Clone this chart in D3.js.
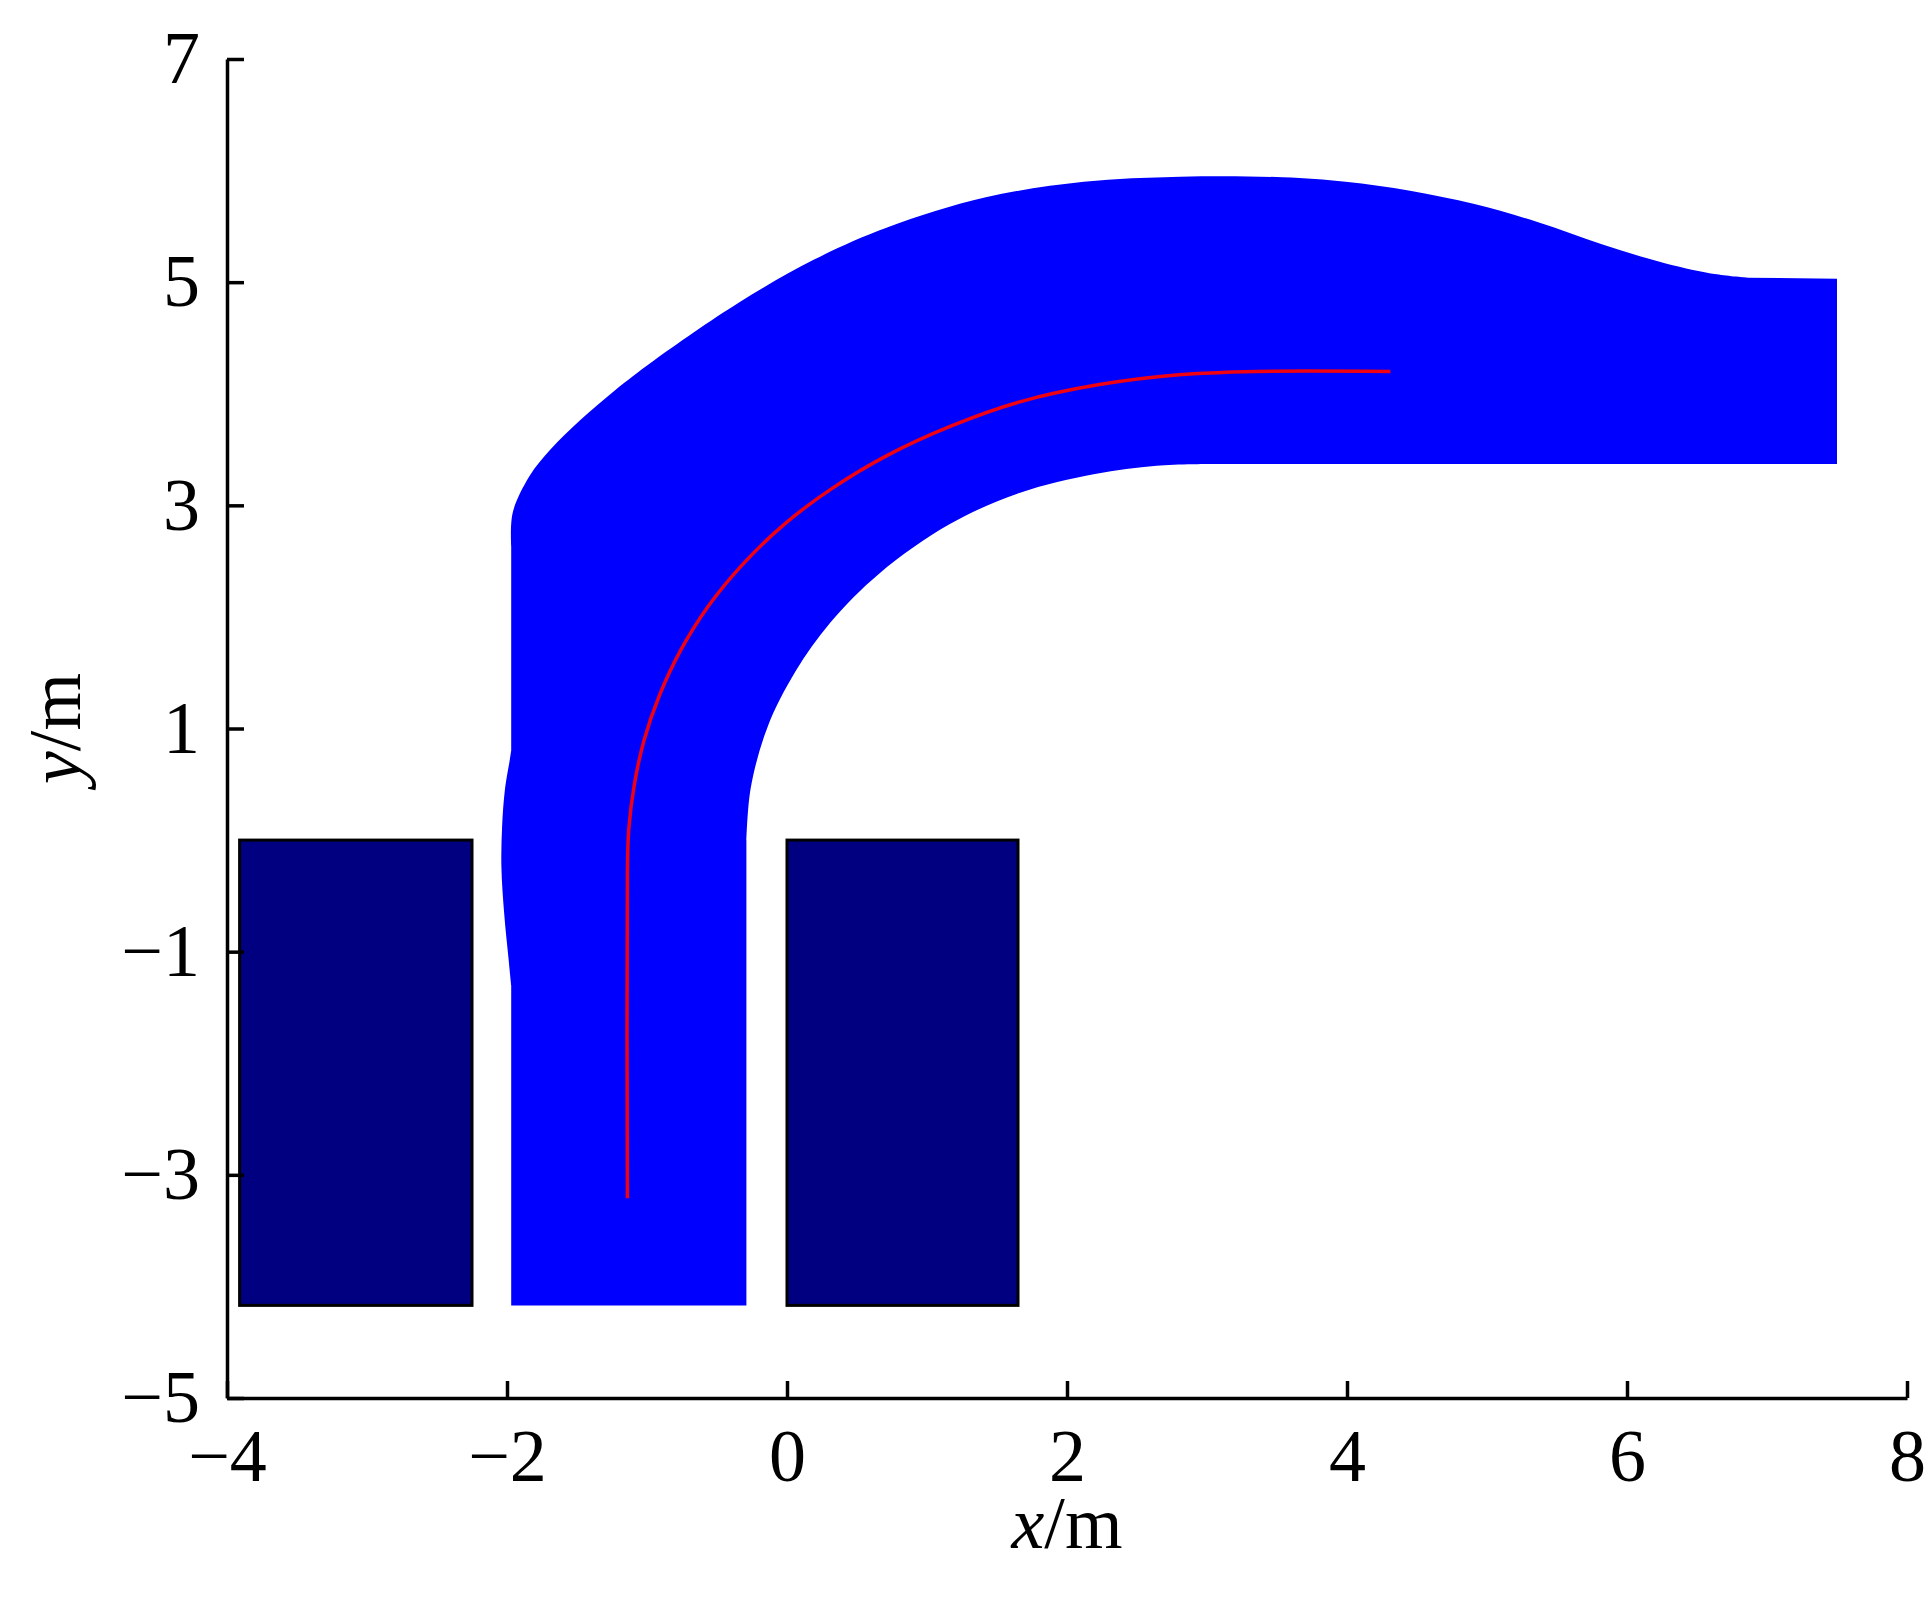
<!DOCTYPE html>
<html>
<head>
<meta charset="utf-8">
<script src="https://cdn.jsdelivr.net/npm/d3@7"></script>
<style>
  body { margin: 0; background: #fff; }
  svg text { font-family: 'Liberation Serif', 'Times New Roman', serif; }
</style>
</head>
<body>
<div id="chart"></div>
<script>
// axis ticks
const xTicks = [-4, -2, 0, 2, 4, 6, 8];
const yTicks = [-5, -3, -1, 1, 3, 5, 7];

// obstacles [x0, x1, y0, y1] in metres
const obstacles = [
  [-3.91, -2.25, -4.17, 0],
  [0, 1.65, -4.17, 0]
];

// swept area outline, walked counter-clockwise from bottom-left
const leftBottom = [[-1.97, -4.17], [-1.97, -1.3]];
const leftBulge = [[-1.97, -1.3], [-1.99, -1.05], [-2.02, -0.66], [-2.04, -0.24], [-2.035, 0.12],
  [-2.015, 0.45], [-1.98, 0.72], [-1.97, 0.8]];
const leftUpper = [[-1.97, 0.8], [-1.97, 2.63]];
const topEdge = [[-1.97, 2.63], [-1.96, 2.93], [-1.84, 3.26], [-1.69, 3.5], [-1.48, 3.76], [-1.23, 4.03],
  [-0.96, 4.29], [-0.34, 4.82], [0.19, 5.2], [0.715, 5.49], [1.42, 5.76], [2.12, 5.9], [2.81, 5.945],
  [3.54, 5.94], [3.99, 5.9], [4.45, 5.82], [4.91, 5.7], [5.36, 5.54], [5.82, 5.34], [6.27, 5.17],
  [6.64, 5.07], [6.86, 5.04]];
const rightEnd = [[6.86, 5.04], [7.5, 5.03], [7.5, 3.37], [3.05, 3.37]];
const innerEdge = [[3.05, 3.37], [2.64, 3.355], [2.2, 3.28], [1.66, 3.11], [1.16, 2.83], [0.66, 2.39],
  [0.31, 1.95], [0.06, 1.51], [-0.14, 1.01], [-0.26, 0.46], [-0.29, 0]];
const rightBottom = [[-0.29, 0], [-0.29, -4.17]];

// reference trajectory
const path = [[-1.14, -3.21], [-1.14, -0.3], [-1.13, 0.1], [-1.09, 0.5], [-1.02, 0.9], [-0.91, 1.3],
  [-0.76, 1.7], [-0.56, 2.1], [-0.31, 2.48], [-0.02, 2.83], [0.32, 3.15], [0.72, 3.45], [1.17, 3.71],
  [1.67, 3.93], [2.22, 4.08], [2.8, 4.17], [3.35, 4.2], [4.31, 4.2]];

const W = 1932, H = 1600;
const x = d3.scaleLinear().domain([-4, 8]).range([227, 1907]);
const y = d3.scaleLinear().domain([-5, 7]).range([1398, 59]);

const svg = d3.select('#chart').append('svg').attr('width', W).attr('height', H);

const straight = d3.line().x(d => x(d[0])).y(d => y(d[1]));
const smooth = d3.line().x(d => x(d[0])).y(d => y(d[1])).curve(d3.curveCatmullRom.alpha(0.5));

const pieces = [
  [leftBottom, straight], [leftBulge, smooth], [leftUpper, straight], [topEdge, smooth],
  [rightEnd, straight], [innerEdge, smooth], [rightBottom, straight]
];
const outline = pieces.map(([pts, gen], i) => (i ? gen(pts).replace(/^M/, 'L') : gen(pts))).join('') + 'Z';

svg.append('path')
  .attr('d', outline)
  .attr('fill', '#0000ff');

svg.selectAll('.obstacle')
  .data(obstacles)
  .enter()
  .append('rect')
  .attr('class', 'obstacle')
  .attr('x', d => x(d[0]))
  .attr('y', d => y(d[3]))
  .attr('width', d => x(d[1]) - x(d[0]))
  .attr('height', d => y(d[2]) - y(d[3]))
  .attr('fill', '#000080')
  .attr('stroke', '#000')
  .attr('stroke-width', 3);

svg.append('path')
  .datum(path)
  .attr('d', smooth)
  .attr('fill', 'none')
  .attr('stroke', '#f00010')
  .attr('stroke-width', 3.5);

const xAxis = svg.append('g')
  .attr('transform', `translate(0,${y(-5)})`)
  .call(d3.axisBottom(x).tickValues(xTicks).tickSizeInner(-17).tickSizeOuter(0).tickPadding(30));

const yAxis = svg.append('g')
  .attr('transform', `translate(${x(-4)},0)`)
  .call(d3.axisLeft(y).tickValues(yTicks).tickSizeInner(-17).tickSizeOuter(0).tickPadding(27));

[xAxis, yAxis].forEach(g => {
  g.select('.domain').attr('stroke', '#000').attr('stroke-width', 3.5);
  g.selectAll('.tick line').attr('stroke', '#000').attr('stroke-width', 3.5);
  g.selectAll('.tick text')
    .attr('fill', '#000')
    .style('font-family', "'Liberation Serif', 'Times New Roman', serif")
    .style('font-size', '74px');
});

const xLabel = svg.append('text')
  .attr('x', x(2))
  .attr('y', 1548)
  .attr('text-anchor', 'middle')
  .style('font-size', '74px');
xLabel.append('tspan').style('font-style', 'italic').text('x');
xLabel.append('tspan').text('/m');

const yLabel = svg.append('text')
  .attr('transform', `translate(80,${y(1)}) rotate(-90)`)
  .attr('text-anchor', 'middle')
  .style('font-size', '74px');
yLabel.append('tspan').style('font-style', 'italic').text('y');
yLabel.append('tspan').text('/m');
</script>
</body>
</html>
